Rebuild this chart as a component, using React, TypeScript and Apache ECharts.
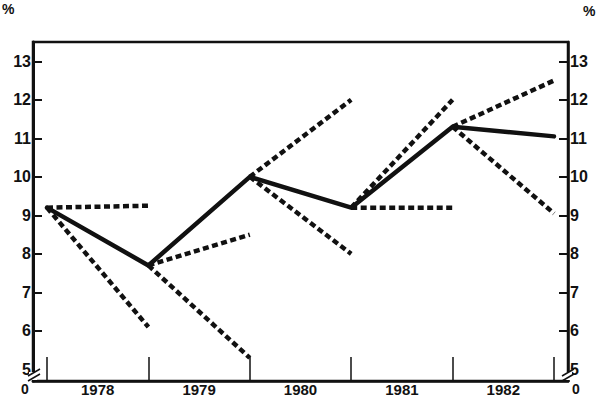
import React, { useEffect, useRef } from "react";
import * as echarts from "echarts";

const yearBounds = [1978, 1979, 1980, 1981, 1982, 1983];
const yearLabels = ["1978", "1979", "1980", "1981", "1982"];
const actual = [9.2, 7.7, 10.0, 9.2, 11.3, 11.05];
const highProj = [9.25, 8.5, 12.0, 12.0, 12.5];
const lowProj = [6.1, 5.3, 8.0, 9.2, 9.05];
const yTicks = [5, 6, 7, 8, 9, 10, 11, 12, 13];

const Y_MIN = 4.7;
const Y_MAX = 13.5;
const X_MIN = 1977.862;
const X_MAX = 1983.138;

export default function App() {
  const ref = useRef<HTMLDivElement>(null);
  useEffect(() => {
    if (!ref.current) return;
    const chart = echarts.init(ref.current, null, { renderer: "svg" });
    const font = "'Liberation Sans', Arial, sans-serif";
    const dashed: any[] = [];
    for (let i = 0; i < yearLabels.length; i++) {
      [highProj, lowProj].forEach((arr, k) => {
        dashed.push({
          type: "line",
          name: (k === 0 ? "high" : "low") + yearLabels[i],
          data: [
            [yearBounds[i], actual[i]],
            [yearBounds[i + 1], arr[i]],
          ],
          symbol: "none",
          lineStyle: { color: "#111", width: 4.5, type: [6, 3.5], cap: "butt" },
          z: 2,
        });
      });
    }
    const yAxisCommon = (pos: "left" | "right") => ({
      type: "value",
      position: pos,
      min: Y_MIN,
      max: Y_MAX,
      splitLine: { show: false },
      axisLine: { show: true, lineStyle: { color: "#111", width: pos === "left" ? 3 : 2.5 } },
      axisTick: {
        show: true,
        inside: true,
        length: 9,
        customValues: [6, 7, 8, 9, 10, 11, 12, 13],
        lineStyle: { color: "#111", width: 2 },
      },
      axisLabel: {
        customValues: yTicks,
        formatter: (v: number) => String(Math.round(v)),
        color: "#111",
        fontFamily: font,
        fontWeight: "bold",
        fontSize: 16,
        margin: 2,
      },
    });
    chart.setOption({
      animation: false,
      grid: {
        left: 33,
        right: 32,
        top: 42,
        bottom: 15,
        show: true,
        borderColor: "#111",
        borderWidth: 2.5,
        backgroundColor: "transparent",
      },
      xAxis: {
        type: "value",
        min: X_MIN,
        max: X_MAX,
        splitLine: { show: false },
        axisLine: { show: true, lineStyle: { color: "#111", width: 2.5 } },
        axisTick: {
          show: true,
          inside: true,
          length: 24,
          customValues: yearBounds,
          lineStyle: { color: "#111", width: 1.5 },
        },
        axisLabel: {
          customValues: yearBounds.slice(0, 5).map((y) => y + 0.5),
          formatter: (v: number) => yearLabels[Math.floor(v) - yearBounds[0]] ?? "",
          color: "#111",
          fontFamily: font,
          fontWeight: "bold",
          fontSize: 15,
          margin: 1,
        },
      },
      yAxis: [yAxisCommon("left"), yAxisCommon("right")],
      series: [
        ...dashed,
        {
          type: "line",
          name: "actual",
          data: yearBounds.map((x, i) => [x, actual[i]]),
          symbol: "none",
          lineStyle: { color: "#111", width: 4.5, join: "round", cap: "round" },
          z: 3,
        },
      ],
      graphic: [
        { type: "text", left: 2, top: 2, style: { text: "%", font: `bold 14px ${font}`, fill: "#111" } },
        { type: "text", left: 583, top: 4, style: { text: "%", font: `bold 14px ${font}`, fill: "#111" } },
        { type: "text", x: 25, y: 389, style: { text: "0", font: `bold 14px ${font}`, fill: "#111", align: "center", verticalAlign: "middle" } },
        { type: "text", x: 576, y: 389, style: { text: "0", font: `bold 14px ${font}`, fill: "#111", align: "center", verticalAlign: "middle" } },
        { type: "rect", shape: { x: 29, y: 372, width: 8, height: 8 }, style: { fill: "#fff" }, z: 100 },
        { type: "line", shape: { x1: 40, y1: 369, x2: 28, y2: 376 }, style: { stroke: "#111", lineWidth: 1.5 }, z: 101 },
        { type: "line", shape: { x1: 40, y1: 374, x2: 28, y2: 381 }, style: { stroke: "#111", lineWidth: 1.5 }, z: 101 },
        { type: "rect", shape: { x: 565, y: 372, width: 7, height: 8 }, style: { fill: "#fff" }, z: 100 },
        { type: "line", shape: { x1: 574, y1: 369, x2: 562, y2: 376 }, style: { stroke: "#111", lineWidth: 1.5 }, z: 101 },
        { type: "line", shape: { x1: 574, y1: 374, x2: 562, y2: 381 }, style: { stroke: "#111", lineWidth: 1.5 }, z: 101 },
      ],
    });
    return () => chart.dispose();
  }, []);
  return (
    <div
      ref={ref}
      style={{ position: "absolute", left: 0, top: 0, width: 600, height: 397, background: "#fff" }}
    />
  );
}
